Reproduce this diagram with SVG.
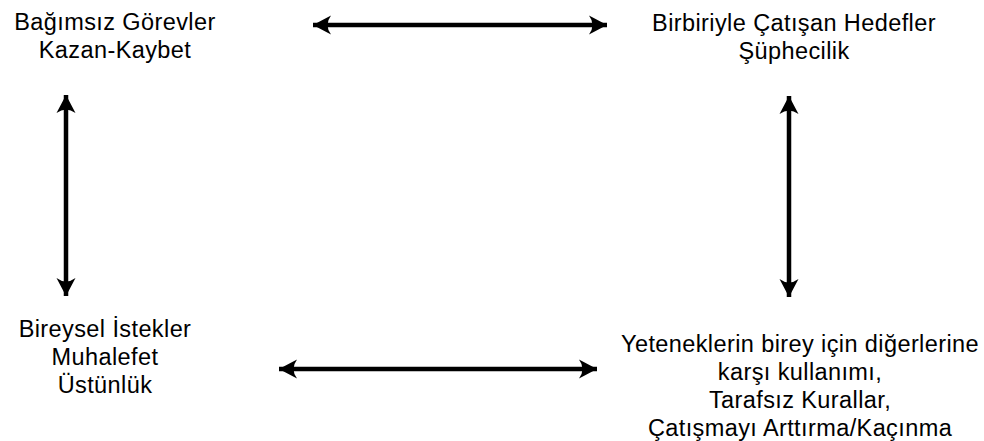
<svg xmlns="http://www.w3.org/2000/svg" width="984" height="441" viewBox="0 0 984 441">
  <style>
    .lbl { font-family: "Liberation Sans", Arial, sans-serif; font-size: 23.5px; letter-spacing: 0.4px; fill: #000; text-anchor: middle; }
    .conn { stroke: #000; stroke-width: 4.5; fill: none; marker-start: url(#head); marker-end: url(#head); }
  </style>
  <defs>
    <!-- concave arrowhead, tip at the line end -->
    <marker id="head" viewBox="-18 -10 20 20" refX="0" refY="0" markerWidth="20" markerHeight="20" markerUnits="userSpaceOnUse" orient="auto-start-reverse">
      <path d="M0,0 L-18,-9.5 Q-11,0 -18,9.5 Z" fill="#000"/>
    </marker>
  </defs>
  <rect width="984" height="441" fill="#fff"/>

  <g id="connectors">
    <line class="conn" x1="313" y1="25" x2="607" y2="25"/>
    <line class="conn" x1="279" y1="369" x2="597" y2="369"/>
    <line class="conn" x1="66" y1="95" x2="66" y2="296"/>
    <line class="conn" x1="789" y1="96" x2="789" y2="297"/>
  </g>

  <g id="node-top-left">
    <text class="lbl" x="115" y="30">Bağımsız Görevler</text>
    <text class="lbl" x="115" y="58">Kazan-Kaybet</text>
  </g>

  <g id="node-top-right">
    <text class="lbl" x="794" y="31">Birbiriyle Çatışan Hedefler</text>
    <text class="lbl" x="794" y="59">Şüphecilik</text>
  </g>

  <g id="node-bottom-left">
    <text class="lbl" x="105" y="337">Bireysel İstekler</text>
    <text class="lbl" x="105" y="365">Muhalefet</text>
    <text class="lbl" x="105" y="393">Üstünlük</text>
  </g>

  <g id="node-bottom-right">
    <text class="lbl" x="800" y="352">Yeteneklerin birey için diğerlerine</text>
    <text class="lbl" x="800" y="380">karşı kullanımı,</text>
    <text class="lbl" x="800" y="408">Tarafsız Kurallar,</text>
    <text class="lbl" x="800" y="436">Çatışmayı Arttırma/Kaçınma</text>
  </g>
</svg>
